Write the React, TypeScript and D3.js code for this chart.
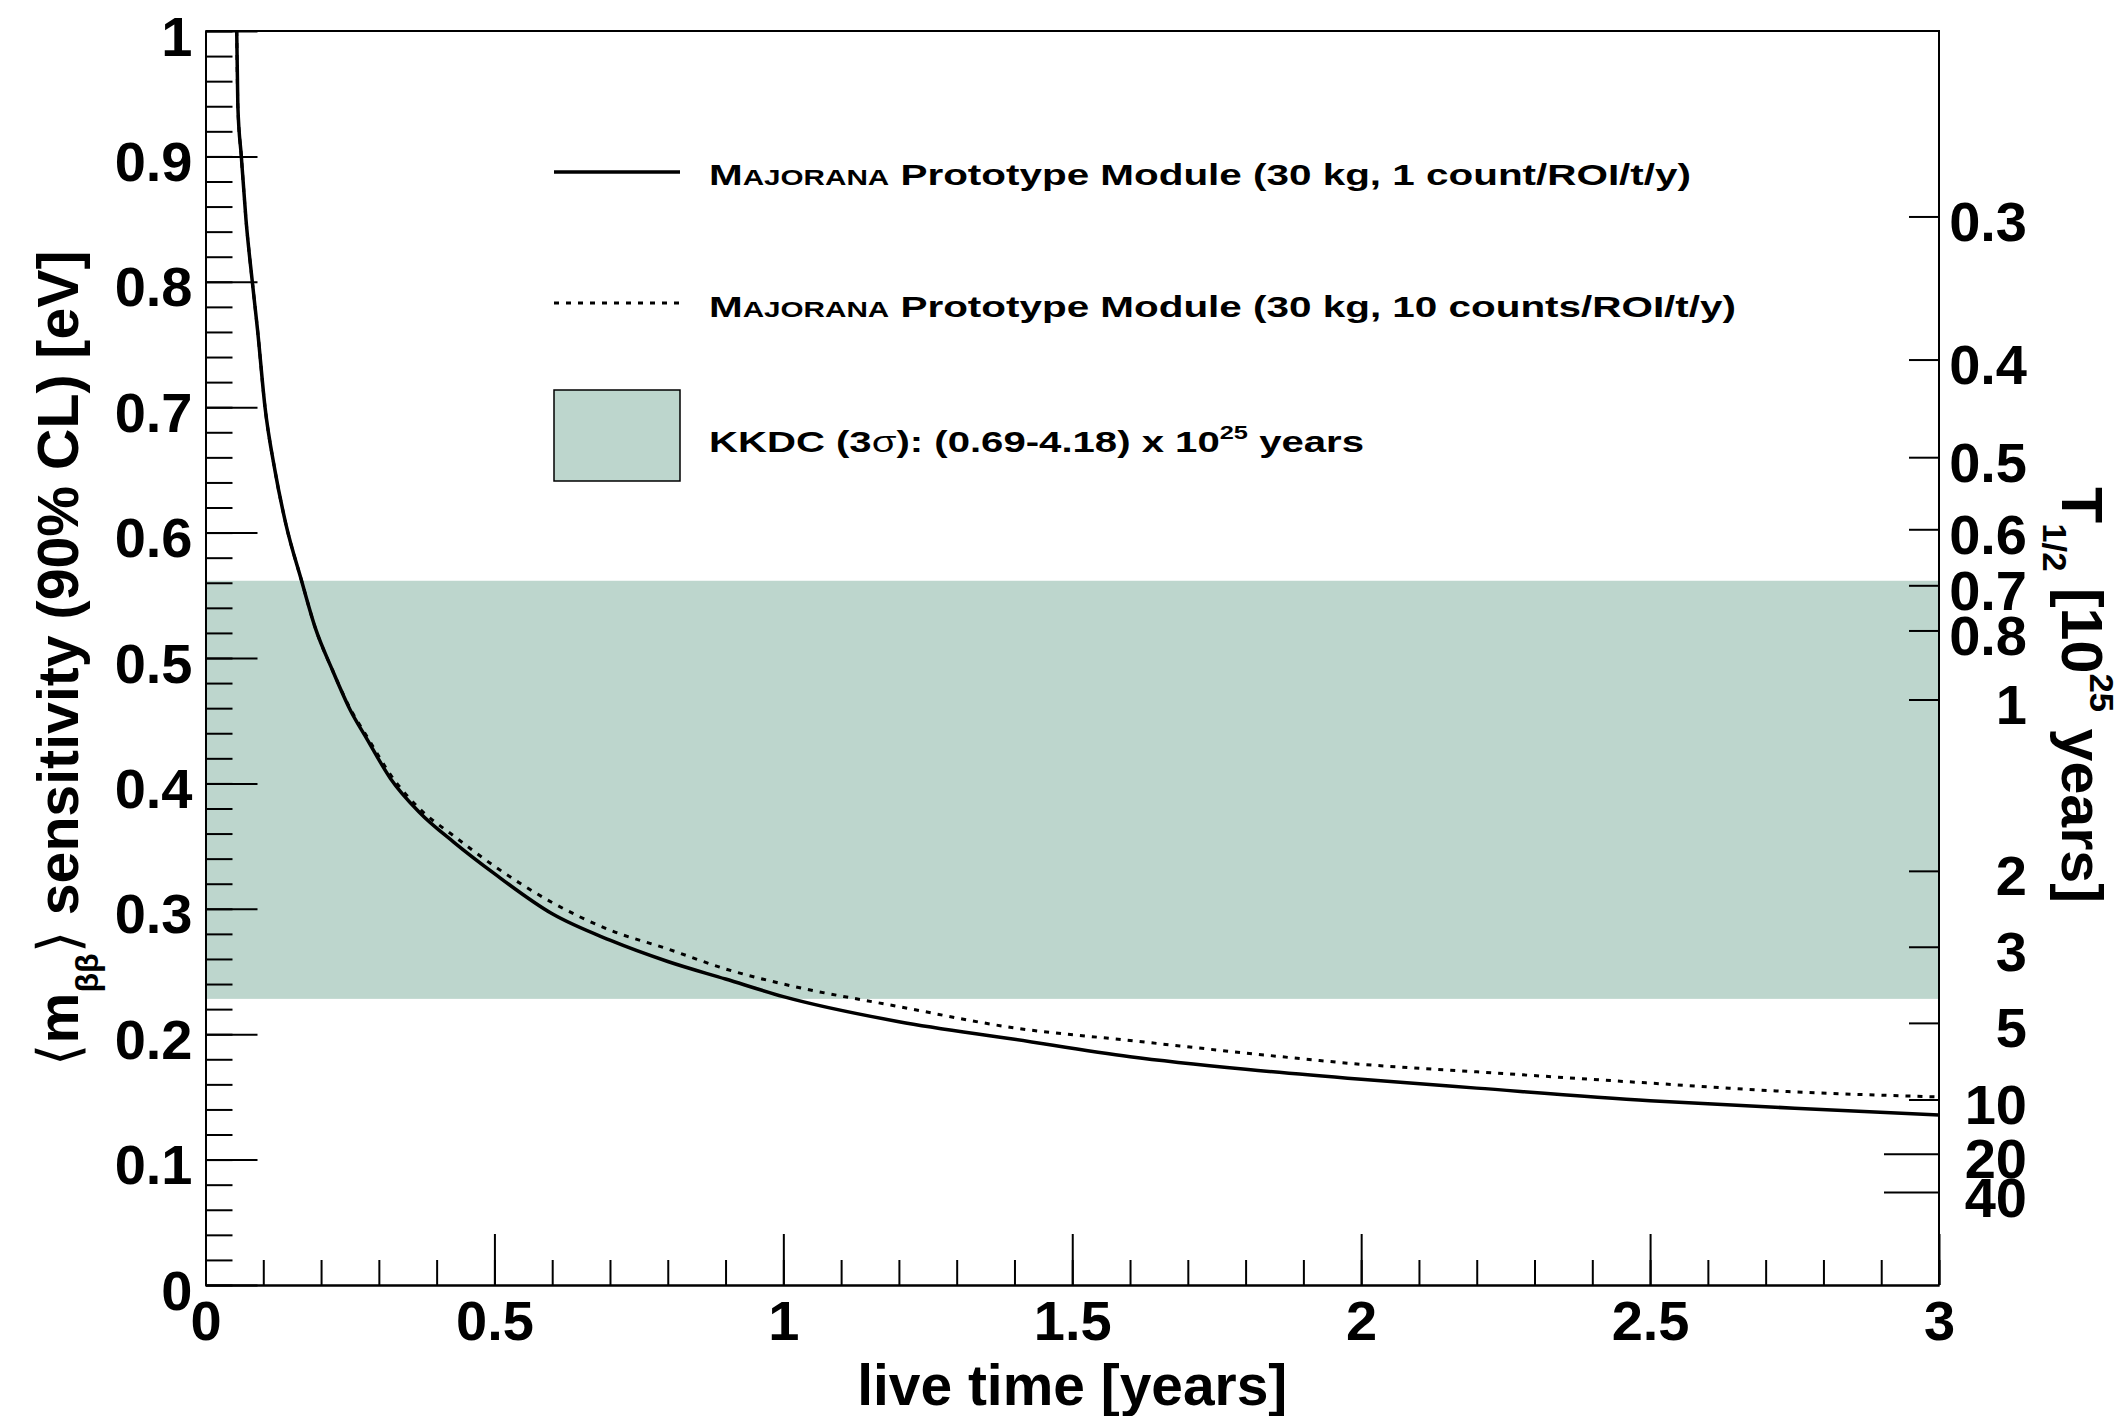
import React, { useEffect, useRef } from 'react';
import * as d3 from 'd3';

// live time [years]
const liveTime = [0.054, 0.056, 0.062, 0.07, 0.081, 0.09, 0.103, 0.12, 0.139, 0.166, 0.19, 0.22, 0.25, 0.28, 0.32, 0.37, 0.43, 0.5, 0.6, 0.7, 0.8, 0.9, 1.0, 1.2, 1.4, 1.6, 1.8, 2.0, 2.2, 2.5, 2.75, 3.0];
// <m_bb> sensitivity [eV], 30 kg, 1 count/ROI/t/y
const sensLowBkg = [1.0, 0.94, 0.9, 0.85, 0.8, 0.762, 0.7, 0.65, 0.607, 0.562, 0.524, 0.49, 0.459, 0.435, 0.404, 0.377, 0.353, 0.328, 0.296, 0.275, 0.258, 0.244, 0.23, 0.21, 0.196, 0.182, 0.172, 0.164, 0.157, 0.147, 0.141, 0.1356];
// <m_bb> sensitivity [eV], 30 kg, 10 counts/ROI/t/y
const sensHighBkg = [1.0, 0.94, 0.9, 0.85, 0.8, 0.762, 0.7, 0.65, 0.607, 0.562, 0.524, 0.49, 0.46, 0.437, 0.407, 0.38, 0.358, 0.334, 0.305, 0.283, 0.268, 0.252, 0.24, 0.222, 0.205, 0.195, 0.185, 0.176, 0.17, 0.161, 0.154, 0.15];

const xMajorTicks = [0, 0.5, 1, 1.5, 2, 2.5, 3];
const yMajorTicks = [0, 0.1, 0.2, 0.3, 0.4, 0.5, 0.6, 0.7, 0.8, 0.9, 1];
// right axis, T1/2 in 10^25 years
const halfLifeTicks = [0.3, 0.4, 0.5, 0.6, 0.7, 0.8, 1, 2, 3, 5, 10, 20, 40];
const halfLifeLongTicks = [20, 40];
const kkdcRange = [0.69, 4.18];
// m_bb [eV] that corresponds to T1/2 = 10^25 years
const massAtUnitHalfLife = 0.4665;

const W = 2122;
const H = 1416;
const FONT = "'Liberation Sans', Arial, Helvetica, sans-serif";
const BAND = '#bdd6cd';

function SensitivityChart() {
  const ref = useRef<SVGSVGElement>(null);

  useEffect(() => {
    const svg = d3.select(ref.current);
    svg.selectAll('*').remove();

    const frame = { left: 205.5, right: 1939, top: 31, bottom: 1285 };
    const x = d3.scaleLinear().domain([0, 3]).range([frame.left, frame.right]);
    const y = d3.scaleLinear().domain([0, 1]).range([frame.bottom, frame.top]);
    const halfLifeToMass = (t: number) => massAtUnitHalfLife / Math.sqrt(t);

    svg.append('rect').attr('width', W).attr('height', H).attr('fill', 'white');

    // KKDC band
    const bandTop = y(halfLifeToMass(kkdcRange[0]));
    const bandBottom = y(halfLifeToMass(kkdcRange[1]));
    svg.append('rect')
      .attr('x', frame.left)
      .attr('y', bandTop)
      .attr('width', frame.right - frame.left)
      .attr('height', bandBottom - bandTop)
      .attr('fill', BAND);

    svg.append('clipPath').attr('id', 'frame-clip')
      .append('rect')
      .attr('x', frame.left)
      .attr('y', frame.top)
      .attr('width', frame.right - frame.left)
      .attr('height', frame.bottom - frame.top);

    const line = d3.line<number>()
      .x((d, i) => x(liveTime[i]))
      .y(d => y(d))
      .curve(d3.curveMonotoneX);

    const curves = svg.append('g').attr('clip-path', 'url(#frame-clip)');
    curves.append('path')
      .attr('d', line(sensHighBkg))
      .attr('fill', 'none')
      .attr('stroke', 'black')
      .attr('stroke-width', 3)
      .attr('stroke-dasharray', '5 7');
    curves.append('path')
      .attr('d', line(sensLowBkg))
      .attr('fill', 'none')
      .attr('stroke', 'black')
      .attr('stroke-width', 3.5);

    const styleAxis = (g: any) => {
      g.selectAll('line').attr('stroke', 'black').attr('stroke-width', 2);
      g.selectAll('path').attr('stroke', 'black').attr('stroke-width', 2);
      g.selectAll('text')
        .attr('font-family', FONT)
        .attr('font-weight', 'bold')
        .attr('font-size', 56)
        .attr('fill', 'black');
    };

    // Left axis
    const yMinor = d3.range(0, 51).map(i => i / 50);
    svg.append('g')
      .attr('transform', `translate(${frame.left},0)`)
      .call(d3.axisLeft(y).tickValues(yMinor).tickSize(-27).tickSizeOuter(0).tickFormat(() => ''))
      .call(styleAxis);
    svg.append('g')
      .attr('transform', `translate(${frame.left},0)`)
      .call(d3.axisLeft(y).tickValues(yMajorTicks).tickSize(-52).tickSizeOuter(0).tickPadding(13).tickFormat(d => String(d)))
      .call(styleAxis)
      .call(g => g.selectAll('text').attr('dy', '0.43em'));

    // Bottom axis
    const xMinor = d3.range(0, 31).map(i => i / 10);
    svg.append('g')
      .attr('transform', `translate(0,${frame.bottom})`)
      .call(d3.axisBottom(x).tickValues(xMinor).tickSize(-25).tickSizeOuter(0).tickFormat(() => ''))
      .call(styleAxis);
    svg.append('g')
      .attr('transform', `translate(0,${frame.bottom})`)
      .call(d3.axisBottom(x).tickValues(xMajorTicks).tickSize(-51).tickSizeOuter(0).tickPadding(15).tickFormat(d => String(d)))
      .call(styleAxis);

    // Frame top + right
    svg.append('path')
      .attr('d', `M${frame.left},${frame.top}H${frame.right}V${frame.bottom}`)
      .attr('fill', 'none')
      .attr('stroke', 'black')
      .attr('stroke-width', 2);

    // Right axis (half-life)
    const right = svg.append('g');
    right.selectAll('line')
      .data(halfLifeTicks)
      .join('line')
      .attr('x1', frame.right)
      .attr('x2', d => frame.right - (halfLifeLongTicks.includes(d) ? 55 : 30))
      .attr('y1', d => y(halfLifeToMass(d)))
      .attr('y2', d => y(halfLifeToMass(d)))
      .attr('stroke', 'black')
      .attr('stroke-width', 2);
    right.selectAll('text')
      .data(halfLifeTicks)
      .join('text')
      .attr('x', 2027)
      .attr('y', d => y(halfLifeToMass(d)))
      .attr('dy', '0.43em')
      .attr('text-anchor', 'end')
      .attr('font-family', FONT)
      .attr('font-weight', 'bold')
      .attr('font-size', 56)
      .text(d => String(d));

    // Axis titles
    svg.append('text')
      .attr('x', (frame.left + frame.right) / 2)
      .attr('y', 1405)
      .attr('text-anchor', 'middle')
      .attr('font-family', FONT)
      .attr('font-weight', 'bold')
      .attr('font-size', 57)
      .attr('textLength', 430)
      .attr('lengthAdjust', 'spacingAndGlyphs')
      .text('live time [years]');

    const yTitle = svg.append('text')
      .attr('transform', `translate(78,${(frame.top + frame.bottom) / 2}) rotate(-90)`)
      .attr('text-anchor', 'middle')
      .attr('font-family', FONT)
      .attr('font-weight', 'bold')
      .attr('font-size', 57)
      .attr('textLength', 815)
      .attr('lengthAdjust', 'spacingAndGlyphs');
    yTitle.append('tspan').attr('font-weight', 'normal').text('\u27E8');
    yTitle.append('tspan').text('m');
    yTitle.append('tspan').attr('font-size', 32).attr('dy', 20).text('\u03B2\u03B2');
    yTitle.append('tspan').attr('font-weight', 'normal').attr('dy', -20).text('\u27E9');
    yTitle.append('tspan').text(' sensitivity (90% CL) [eV]');

    const rTitle = svg.append('text')
      .attr('transform', `translate(2062,695) rotate(90)`)
      .attr('text-anchor', 'middle')
      .attr('font-family', FONT)
      .attr('font-weight', 'bold')
      .attr('font-size', 58)
      .attr('textLength', 416)
      .attr('lengthAdjust', 'spacingAndGlyphs');
    rTitle.append('tspan').text('T');
    rTitle.append('tspan').attr('font-size', 34).attr('dy', 19).text('1/2');
    rTitle.append('tspan').attr('dy', -19).text(' [10');
    rTitle.append('tspan').attr('font-size', 34).attr('dy', -28).text('25');
    rTitle.append('tspan').attr('dy', 28).text(' years]');

    // Legend
    const legend = svg.append('g');
    const legX0 = 554;
    const legX1 = 680;
    const textX = 709;

    legend.append('line')
      .attr('x1', legX0).attr('x2', legX1).attr('y1', 172).attr('y2', 172)
      .attr('stroke', 'black').attr('stroke-width', 3.5);
    legend.append('line')
      .attr('x1', legX0).attr('x2', legX1).attr('y1', 303).attr('y2', 303)
      .attr('stroke', 'black').attr('stroke-width', 3).attr('stroke-dasharray', '5 7');
    legend.append('rect')
      .attr('x', legX0).attr('y', 390).attr('width', legX1 - legX0).attr('height', 91)
      .attr('fill', BAND).attr('stroke', 'black').attr('stroke-width', 1.5);

    const legendRows = [
      { y: 185, rest: ' Prototype Module (30 kg, 1 count/ROI/t/y)', len: 982 },
      { y: 317, rest: ' Prototype Module (30 kg, 10 counts/ROI/t/y)', len: 1027 },
    ];
    legendRows.forEach(r => {
      const t = legend.append('text')
        .attr('x', textX)
        .attr('y', r.y)
        .attr('font-family', FONT)
        .attr('font-weight', 'bold')
        .attr('font-size', 30)
        .attr('textLength', r.len)
        .attr('lengthAdjust', 'spacingAndGlyphs');
      t.append('tspan').text('M');
      t.append('tspan').attr('font-size', 22).text('AJORANA');
      t.append('tspan').text(r.rest);
    });

    const kk = legend.append('text')
      .attr('x', textX)
      .attr('y', 452)
      .attr('font-family', FONT)
      .attr('font-weight', 'bold')
      .attr('font-size', 30)
      .attr('textLength', 655)
      .attr('lengthAdjust', 'spacingAndGlyphs');
    kk.append('tspan').text('KKDC (3');
    kk.append('tspan').attr('font-weight', 'normal').text('\u03C3');
    kk.append('tspan').text('): (0.69-4.18) x 10');
    kk.append('tspan').attr('font-size', 19).attr('dy', -13).text('25');
    kk.append('tspan').attr('dy', 13).text(' years');
  }, []);

  return (
    <svg
      ref={ref}
      width={W}
      height={H}
      style={{ position: 'absolute', left: 0, top: 0, display: 'block' }}
    />
  );
}

export default function App() {
  return <SensitivityChart />;
}
